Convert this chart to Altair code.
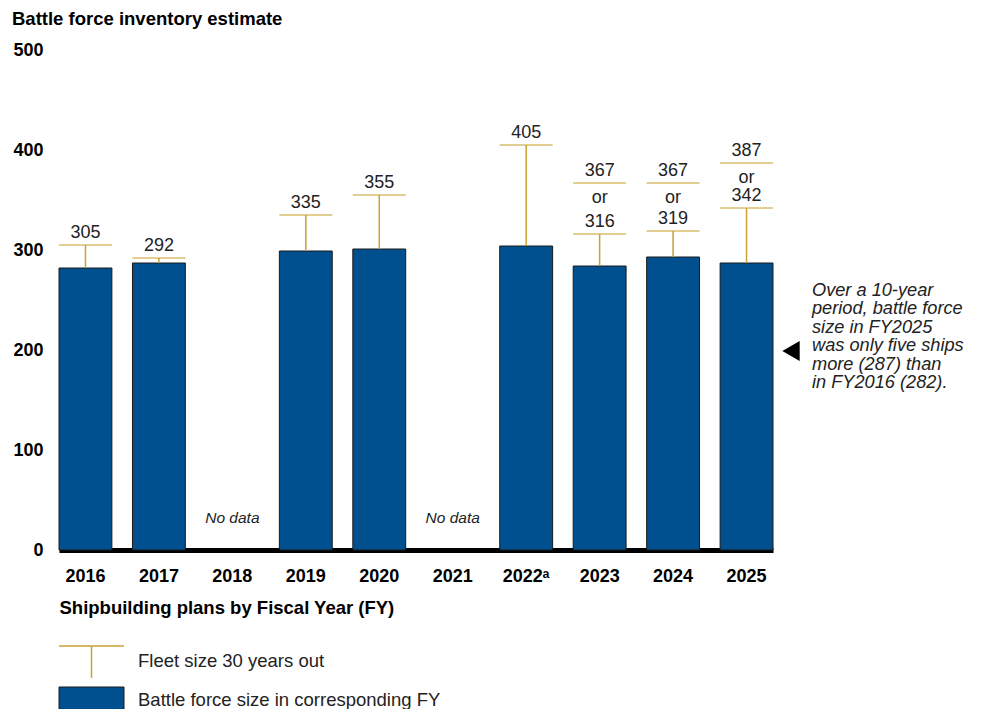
import altair as alt
import pandas as pd

# ---------------- data ----------------
years = ["2016", "2017", "2018", "2019", "2020", "2021", "2022", "2023", "2024", "2025"]
battle_force = [282, 287, None, 299, 301, None, 304, 284, 293, 287]
fleet_high = [305, 292, None, 335, 355, None, 405, 367, 367, 387]
fleet_low = [None, None, None, None, None, None, None, 316, 319, 342]
no_data_years = ["2018", "2021"]
y_ticks = [0, 100, 200, 300, 400, 500]
note_lines = ["Over a 10-year", "period, battle force", "size in FY2025",
              "was only five ships", "more (287) than", "in FY2016 (282)."]
legend_labels = ["Fleet size 30 years out", "Battle force size in corresponding FY"]
chart_title = "Battle force inventory estimate"

BLUE = "#00508F"
GOLD = "#C9A232"
TXT = "#222222"
FONT = "Liberation Sans, Arial, sans-serif"

# ---------------- tables ----------------
bars = pd.DataFrame({"year": years, "battle": battle_force}).dropna()

wh_rows, cap_rows, or_rows = [], [], []
for y, b, hi, lo in zip(years, battle_force, fleet_high, fleet_low):
    if b is None:
        continue
    end = lo if lo is not None else hi
    wh_rows.append({"year": y, "start": b, "end": end})
    cap_rows.append({"year": y, "value": hi, "label": str(hi)})
    if lo is not None:
        cap_rows.append({"year": y, "value": lo, "label": str(lo)})
        or_rows.append({"year": y, "value": hi, "label": "or"})
whiskers = pd.DataFrame(wh_rows)
caps = pd.DataFrame(cap_rows)
ors = pd.DataFrame(or_rows)
nodata = pd.DataFrame({"year": no_data_years, "label": ["No data"] * len(no_data_years)})
one = pd.DataFrame({"k": [0]})

# ---------------- encodings ----------------
x_enc = alt.X(
    "year:N",
    sort=years,
    scale=alt.Scale(domain=years, paddingInner=0.28, paddingOuter=0),
    axis=alt.Axis(
        labelExpr="datum.value == '2022' ? '2022ᵃ' : datum.value",
        labelAngle=0, ticks=False, grid=False,
        domainColor="black", domainWidth=5,
        labelFont=FONT, labelFontSize=18, labelFontWeight="bold", labelColor="black",
        labelPadding=17,
        title="Shipbuilding plans by Fiscal Year (FY)",
        titleFont=FONT, titleFontSize=18.5, titleFontWeight="bold", titleColor="black",
        titleAnchor="start", titleAlign="left", titleBaseline="middle",
        titleX=0, titleY=57,
    ),
)
y_scale = alt.Scale(domain=[0, 500], nice=False)
y_axis = alt.Axis(
    values=y_ticks, domain=False, ticks=False, grid=False,
    labelFont=FONT, labelFontSize=18, labelFontWeight="bold", labelColor="black",
    labelPadding=16, title=None,
)

bar_layer = alt.Chart(bars).mark_bar(color=BLUE, stroke="#1a1a1a", strokeWidth=1).encode(
    x=x_enc,
    y=alt.Y("battle:Q", scale=y_scale, axis=y_axis),
)

whisker_layer = alt.Chart(whiskers).mark_rule(color=GOLD, strokeWidth=1.5).encode(
    x=x_enc,
    y=alt.Y("start:Q", scale=y_scale, axis=y_axis),
    y2="end:Q",
)

cap_layer = alt.Chart(caps).mark_tick(color=GOLD, thickness=1.5, size=53).encode(
    x=x_enc,
    y=alt.Y("value:Q", scale=y_scale, axis=y_axis),
)

cap_text = alt.Chart(caps).mark_text(
    dy=-12, baseline="middle", font=FONT, fontSize=18, color=TXT
).encode(
    x=x_enc,
    y=alt.Y("value:Q", scale=y_scale, axis=y_axis),
    text="label:N",
)

or_text = alt.Chart(ors).mark_text(
    dy=14.5, baseline="middle", font=FONT, fontSize=18, color=TXT
).encode(
    x=x_enc,
    y=alt.Y("value:Q", scale=y_scale, axis=y_axis),
    text="label:N",
)

nodata_text = alt.Chart(nodata).mark_text(
    baseline="middle", font=FONT, fontSize=15.5, fontStyle="italic", color=TXT
).encode(
    x=x_enc,
    y=alt.value(468),
    text="label:N",
)

# chart title (top-left)
title_text = alt.Chart(one).mark_text(
    align="left", baseline="middle", font=FONT, fontSize=18.5, fontWeight="bold", color="black"
).encode(x=alt.value(-47), y=alt.value(-31), text=alt.value(chart_title))

# annotation on the right
triangle = alt.Chart(one).mark_point(
    shape="triangle-left", filled=True, color="black", opacity=1, size=400
).encode(x=alt.value(732), y=alt.value(301))

note = alt.Chart(one).mark_text(
    align="left", baseline="middle", font=FONT, fontSize=18.2, fontStyle="italic",
    lineHeight=18.4, color=TXT
).encode(x=alt.value(753), y=alt.value(241), text=alt.value(note_lines))

# legend (drawn below the axis title)
leg_cap = alt.Chart(one).mark_rule(color=GOLD, strokeWidth=1.5).encode(
    x=alt.value(0), x2=alt.value(65), y=alt.value(596)
)
leg_stem = alt.Chart(one).mark_rule(color=GOLD, strokeWidth=1.5).encode(
    x=alt.value(32.5), y=alt.value(596), y2=alt.value(628)
)
leg_box = alt.Chart(one).mark_rect(color=BLUE, stroke="#1a1a1a", strokeWidth=1).encode(
    x=alt.value(0), x2=alt.value(65), y=alt.value(637), y2=alt.value(670)
)
leg_t1 = alt.Chart(one).mark_text(
    align="left", baseline="middle", font=FONT, fontSize=18.5, color=TXT
).encode(x=alt.value(79), y=alt.value(611), text=alt.value(legend_labels[0]))
leg_t2 = alt.Chart(one).mark_text(
    align="left", baseline="middle", font=FONT, fontSize=18.5, color=TXT
).encode(x=alt.value(79), y=alt.value(650), text=alt.value(legend_labels[1]))

chart = alt.layer(
    bar_layer, whisker_layer, cap_layer, cap_text, or_text, nodata_text,
    title_text, triangle, note, leg_cap, leg_stem, leg_box, leg_t1, leg_t2,
).properties(
    width=714,
    height=500,
    padding={"left": 51, "top": 42, "right": 195, "bottom": 159},
    autosize=alt.AutoSizeParams(type="none"),
).configure(background="white").configure_view(stroke=None)

chart.save("out.html", embed_options={"renderer": "svg", "actions": False})
